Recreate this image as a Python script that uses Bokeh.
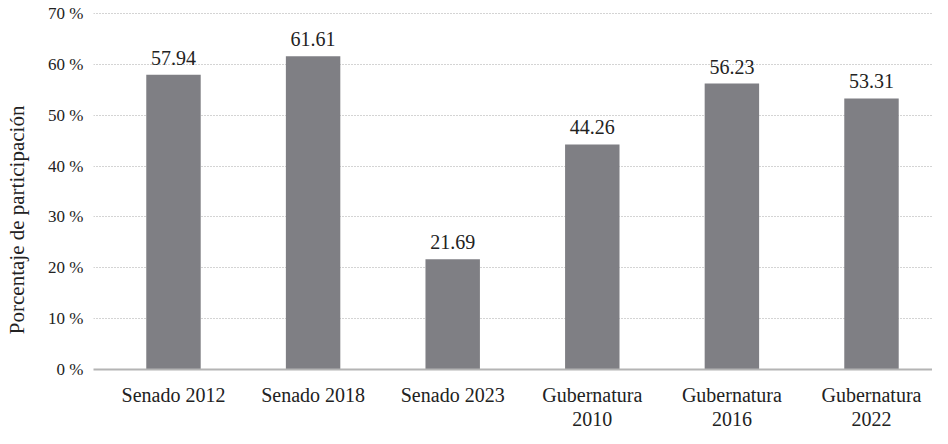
from bokeh.plotting import figure
from bokeh.models import Range1d, FixedTicker, ColumnDataSource, LinearAxis
from bokeh.core.properties import value
from bokeh.embed import file_html
from bokeh.resources import INLINE

categories = ["Senado 2012", "Senado 2018", "Senado 2023",
              "Gubernatura 2010", "Gubernatura 2016", "Gubernatura 2022"]
cat_labels = ["Senado 2012", "Senado 2018", "Senado 2023",
              "Gubernatura\n2010", "Gubernatura\n2016", "Gubernatura\n2022"]
participacion = [57.94, 61.61, 21.69, 44.26, 56.23, 53.31]
y_ticks = [0, 10, 20, 30, 40, 50, 60, 70]
y_tick_labels = ["0 %", "10 %", "20 %", "30 %", "40 %", "50 %", "60 %", "70 %"]
y_title = "Porcentaje de participación"

FONT = "Liberation Serif"
BAR = "#7f7f84"
TXT = "#222222"

xs = list(range(len(categories)))
line1 = [l.split("\n")[0] for l in cat_labels]
line2 = [(l.split("\n") + [""])[1] for l in cat_labels]

src = ColumnDataSource(dict(
    x=xs, cat=categories, val=participacion,
    lab=[f"{v:.2f}" for v in participacion],
))

p = figure(
    width=932, height=428,
    x_range=Range1d(-0.573, 5.437),
    y_range=Range1d(0, 70.2),
    output_backend="svg", toolbar_location=None,
    min_border_left=93, min_border_right=0, min_border_top=12,
    min_border_bottom=40,
)
p.outline_line_color = None
p.background_fill_color = "white"
p.border_fill_color = "white"

p.vbar(x="x", top="val", width=0.39, source=src, color=BAR, line_color=None)

p.text(x="x", y="val", text="lab", source=src,
       text_font=value(FONT), text_font_size="20px", text_color=TXT,
       text_align="center", text_baseline="bottom", y_offset=-10)

# x axis: first line of each category label
xa = p.xaxis[0]
xa.ticker = FixedTicker(ticks=xs)
xa.major_label_overrides = {i: t for i, t in zip(xs, line1)}
xa.axis_line_color = "#b4b4b4"
xa.axis_line_width = 2
xa.major_tick_line_color = None
xa.minor_tick_line_color = None
xa.major_label_text_font = FONT
xa.major_label_text_font_size = "20px"
xa.major_label_text_color = TXT
xa.major_label_standoff = 8
p.xgrid.grid_line_color = None

# second axis below: second line of the category labels
xa2 = LinearAxis(ticker=FixedTicker(ticks=xs),
                 major_label_overrides={i: t for i, t in zip(xs, line2)})
xa2.axis_line_color = None
xa2.major_tick_line_color = None
xa2.minor_tick_line_color = None
xa2.major_label_text_font = FONT
xa2.major_label_text_font_size = "20px"
xa2.major_label_text_color = TXT
xa2.major_label_standoff = -3
p.add_layout(xa2, "below")

# y axis
ya = p.yaxis[0]
ya.ticker = FixedTicker(ticks=y_ticks)
ya.major_label_overrides = {t: l for t, l in zip(y_ticks, y_tick_labels)}
ya.axis_line_color = None
ya.major_tick_line_color = None
ya.minor_tick_line_color = None
ya.major_label_text_font = FONT
ya.major_label_text_font_size = "17px"
ya.major_label_text_color = TXT
ya.major_label_standoff = 4
ya.axis_label = y_title + "\u00a0" * 11
ya.axis_label_text_font = FONT
ya.axis_label_text_font_size = "21px"
ya.axis_label_text_font_style = "normal"
ya.axis_label_text_color = TXT
ya.axis_label_standoff = 16

p.ygrid.ticker = FixedTicker(ticks=y_ticks[1:])
p.ygrid.grid_line_color = "#a8a8a8"
p.ygrid.grid_line_dash = "1 2"
p.ygrid.grid_line_width = 1

open("out.html", "w").write(file_html(p, INLINE))
